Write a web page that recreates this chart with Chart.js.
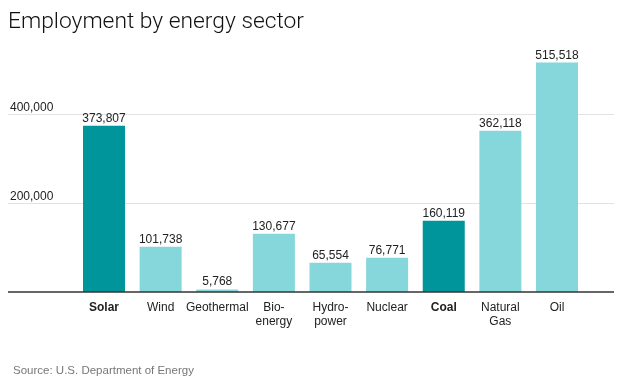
<!DOCTYPE html>
<html>
<head>
<meta charset="utf-8">
<script src="https://cdn.jsdelivr.net/npm/chart.js@4/dist/chart.umd.min.js"></script>
<style>
  html, body { margin: 0; padding: 0; background: #fff; }
  #wrap { width: 620px; height: 388px; position: relative; }
</style>
</head>
<body>
<div id="wrap"><canvas id="c" width="620" height="388"></canvas></div>
<script>
const categories = [["Solar"], ["Wind"], ["Geothermal"], ["Bio-", "energy"], ["Hydro-", "power"], ["Nuclear"], ["Coal"], ["Natural", "Gas"], ["Oil"]];
const employment = [373807, 101738, 5768, 130677, 65554, 76771, 160119, 362118, 515518];
const highlighted = ["Solar", "Coal"];
const yTicks = [200000, 400000];
const titleText = "Employment by energy sector";
const sourceText = "Source: U.S. Department of Energy";

const DARK = "#00959a";
const LIGHT = "#86d7db";
const isHi = (i) => highlighted.includes(categories[i][0]);
const fmt = (v) => v.toLocaleString("en-US");

const overlay = {
  id: "overlay",
  beforeDatasetsDraw(chart) {
    const ctx = chart.ctx, y = chart.scales.y;
    ctx.save();
    ctx.strokeStyle = "#e2e2e2";
    ctx.lineWidth = 1;
    ctx.font = "12px 'Liberation Sans', Arial, sans-serif";
    ctx.fillStyle = "#222";
    ctx.textAlign = "left";
    ctx.textBaseline = "alphabetic";
    yTicks.forEach(t => {
      const py = Math.round(y.getPixelForValue(t)) + 0.5;
      ctx.beginPath(); ctx.moveTo(8, py); ctx.lineTo(614, py); ctx.stroke();
      ctx.fillText(fmt(t), 10, py - 4);
    });
    ctx.restore();
  },
  afterDatasetsDraw(chart) {
    const ctx = chart.ctx, x = chart.scales.x, y = chart.scales.y;
    ctx.save();
    const by = y.getPixelForValue(0);
    ctx.strokeStyle = "#333";
    ctx.lineWidth = 1.5;
    ctx.beginPath(); ctx.moveTo(8, by); ctx.lineTo(614, by); ctx.stroke();
    ctx.fillStyle = "#222";
    ctx.textAlign = "center";
    ctx.textBaseline = "alphabetic";
    const meta = chart.getDatasetMeta(0);
    meta.data.forEach((bar, i) => {
      ctx.font = "12px 'Liberation Sans', Arial, sans-serif";
      ctx.fillText(fmt(employment[i]), bar.x, bar.y - 4);
    });
    categories.forEach((lines, i) => {
      const px = x.getPixelForValue(i);
      ctx.font = (isHi(i) ? "bold " : "") + "12px 'Liberation Sans', Arial, sans-serif";
      lines.forEach((ln, k) => ctx.fillText(ln, px, by + 19 + k * 14));
    });
    ctx.textAlign = "left";
    ctx.fillStyle = "#111";
    ctx.font = "300 22.8px Roboto, 'Liberation Sans', sans-serif";
    ctx.fillText(titleText, 8, 28);
    ctx.fillStyle = "#777";
    ctx.font = "11.5px 'Liberation Sans', Arial, sans-serif";
    ctx.fillText(sourceText, 13, 374);
    ctx.restore();
  }
};

new Chart(document.getElementById("c"), {
  type: "bar",
  data: {
    labels: categories.map(c => c.join(" ")),
    datasets: [{
      data: employment,
      backgroundColor: employment.map((_, i) => isHi(i) ? DARK : LIGHT),
      borderWidth: 0,
      barPercentage: 0.742,
      categoryPercentage: 1.0
    }]
  },
  options: {
    responsive: false,
    animation: false,
    devicePixelRatio: 1,
    layout: { padding: { left: 75.7, right: 34.7, top: 25, bottom: 96 } },
    plugins: { legend: { display: false }, title: { display: false }, tooltip: { enabled: false } },
    scales: {
      x: { display: false, offset: true },
      y: { display: false, min: 0, max: 600000 }
    }
  },
  plugins: [overlay]
});
</script>
</body>
</html>
